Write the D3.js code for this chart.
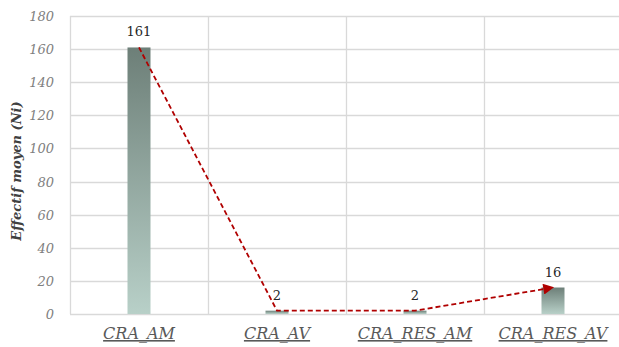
<!DOCTYPE html>
<html>
<head>
<meta charset="utf-8">
<script src="https://cdn.jsdelivr.net/npm/d3@7"></script>
<style>
  html, body { margin: 0; padding: 0; background: #ffffff; }
  svg { display: block; }
  .serif { font-family: "DejaVu Serif", serif; }
</style>
</head>
<body>
<svg id="chart" width="619" height="347"></svg>
<script>
// Mean abundance (Ni) per sampling station
const categories = ["CRA_AM", "CRA_AV", "CRA_RES_AM", "CRA_RES_AV"];
const values = [161, 2, 2, 16];
const yTicks = [0, 20, 40, 60, 80, 100, 120, 140, 160, 180];
const yTitle = "Effectif moyen (Ni)";

const width = 619, height = 347;
const margin = { top: 16, right: -3, bottom: 33, left: 70 };
const svg = d3.select("#chart");

const x = d3.scaleBand()
  .domain(categories)
  .range([margin.left, width - margin.right])
  .paddingInner(0).paddingOuter(0);

const y = d3.scaleLinear()
  .domain([0, 180])
  .range([height - margin.bottom, margin.top]);

// Bar fill: darker at the top, pale at the base
const defs = svg.append("defs");
const grad = defs.append("linearGradient")
  .attr("id", "barGrad")
  .attr("x1", 0).attr("y1", 0).attr("x2", 0).attr("y2", 1);
grad.append("stop").attr("offset", "0%").attr("stop-color", "#6d7f78");
grad.append("stop").attr("offset", "100%").attr("stop-color", "#b8d0c8");

defs.append("marker")
  .attr("id", "arrow")
  .attr("viewBox", "0 0 10 10")
  .attr("refX", 9).attr("refY", 5)
  .attr("markerWidth", 7).attr("markerHeight", 6)
  .attr("markerUnits", "strokeWidth")
  .attr("orient", "auto")
  .append("path")
  .attr("d", "M0,0 L10,5 L0,10 Z")
  .attr("fill", "#b00000");

// Horizontal gridlines
svg.append("g")
  .selectAll("line")
  .data(yTicks)
  .join("line")
  .attr("x1", margin.left).attr("x2", width)
  .attr("y1", d => Math.round(y(d)) + 0.5)
  .attr("y2", d => Math.round(y(d)) + 0.5)
  .attr("stroke", "#d9d9d9")
  .attr("stroke-width", 1.3);

// Vertical separators between categories
svg.append("g")
  .selectAll("line")
  .data(categories)
  .join("line")
  .attr("x1", d => Math.round(x(d)) + 0.5)
  .attr("x2", d => Math.round(x(d)) + 0.5)
  .attr("y1", y(180)).attr("y2", y(0))
  .attr("stroke", "#d9d9d9")
  .attr("stroke-width", 1.3);

// Y tick labels
svg.append("g")
  .selectAll("text")
  .data(yTicks)
  .join("text")
  .attr("class", "serif")
  .attr("x", 54)
  .attr("y", d => y(d) + 5)
  .attr("text-anchor", "end")
  .attr("font-style", "italic")
  .attr("font-size", 13)
  .attr("fill", "#7f7f7f")
  .text(d => d);

// Y axis title
svg.append("text")
  .attr("class", "serif")
  .attr("transform", `translate(21, ${(y(0) + y(180)) / 2 + 6}) rotate(-90)`)
  .attr("text-anchor", "middle")
  .attr("font-style", "italic")
  .attr("font-weight", "bold")
  .attr("font-size", 13)
  .attr("fill", "#404040")
  .text(yTitle);

// Bars
const barW = 23;
svg.append("g")
  .selectAll("rect")
  .data(values)
  .join("rect")
  .attr("x", (d, i) => x(categories[i]) + x.bandwidth() / 2 - barW / 2)
  .attr("y", d => y(d))
  .attr("width", barW)
  .attr("height", d => y(0) - y(d))
  .attr("fill", "url(#barGrad)");

// Value labels
svg.append("g")
  .selectAll("text")
  .data(values)
  .join("text")
  .attr("class", "serif")
  .attr("x", (d, i) => x(categories[i]) + x.bandwidth() / 2)
  .attr("y", d => y(d) - 11)
  .attr("text-anchor", "middle")
  .attr("font-size", 13)
  .attr("fill", "#262626")
  .text(d => d);

// Trend line joining bar tops
const line = d3.line()
  .x((d, i) => x(categories[i]) + x.bandwidth() / 2)
  .y(d => y(d));
svg.append("path")
  .datum(values)
  .attr("d", line)
  .attr("fill", "none")
  .attr("stroke", "#b00000")
  .attr("stroke-width", 1.8)
  .attr("stroke-dasharray", "5,3")
  .attr("marker-end", "url(#arrow)");

// Category labels
svg.append("g")
  .selectAll("text")
  .data(categories)
  .join("text")
  .attr("class", "serif")
  .attr("x", d => x(d) + x.bandwidth() / 2)
  .attr("y", 339)
  .attr("text-anchor", "middle")
  .attr("font-style", "italic")
  .attr("font-size", 16)
  .attr("text-decoration", "underline")
  .attr("fill", "#595959")
  .text(d => d);
</script>
</body>
</html>
